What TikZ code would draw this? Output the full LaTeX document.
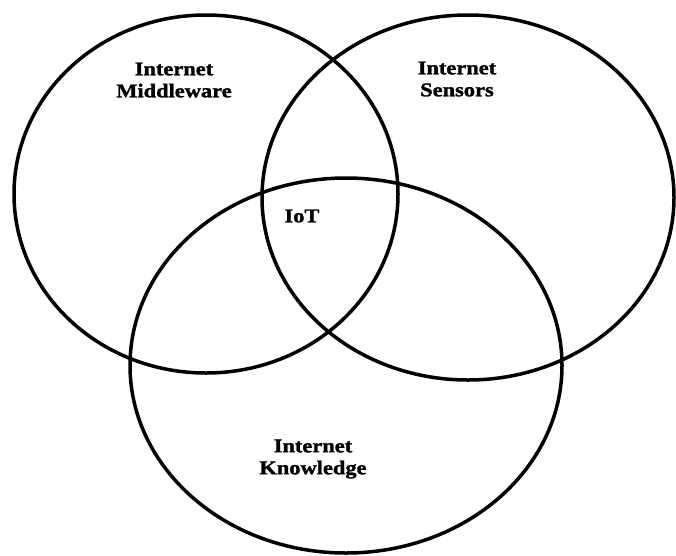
\documentclass[tikz,border=0pt]{standalone}
\usepackage{fontspec}
\setmainfont{Liberation Serif}
\newfontfamily\vennfont[FakeStretch=1.15,FakeBold=1.5]{Liberation Serif}
\usetikzlibrary{positioning}

\begin{document}
\begin{tikzpicture}[x=1pt,y=-1pt,
    set/.style={draw=black,line width=3.5pt},
    setname/.style={font=\vennfont\bfseries\fontsize{19.5}{22}\selectfont,align=center,inner sep=0pt}]
  \useasboundingbox (0,0) rectangle (676,555);
  % centres of the three sets
  \coordinate (mid) at (206,194);
  \coordinate (sen) at (468,197.5);
  \coordinate (know) at (346,365.5);
  \draw[set] (mid) ellipse [x radius=192pt,y radius=179pt];
  \draw[set] (sen) ellipse [x radius=206pt,y radius=182.5pt];
  \draw[set] (know) ellipse [x radius=216pt,y radius=187.5pt];
  % labels
  \node(midlabel)[setname] at (174,80) {Internet\\Middleware};
  \node(senlabel)[setname] at (457,79) {Internet\\Sensors};
  \node(knowlabel)[setname] at (313,459) {Internet\\Knowledge};
  \node(iot)[setname] at (302,216) {IoT};
\end{tikzpicture}
\end{document}
